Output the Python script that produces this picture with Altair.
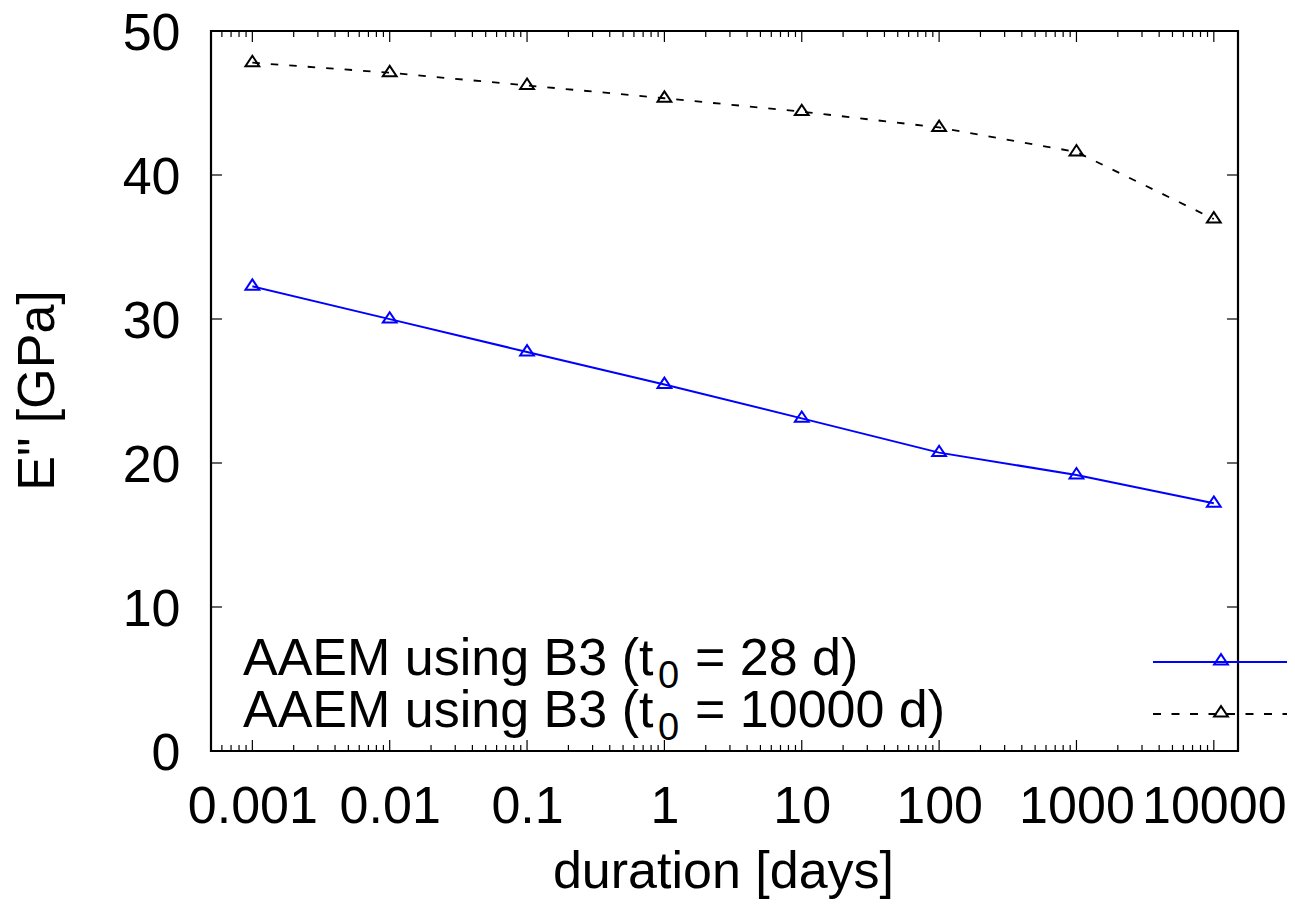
import altair as alt
import pandas as pd

# ---- data ----
durations = [0.001, 0.01, 0.1, 1, 10, 100, 1000, 10000]
e_t0_28 = [32.27, 29.99, 27.71, 25.45, 23.10, 20.72, 19.17, 17.20]
e_t0_10000 = [47.80, 47.10, 46.22, 45.33, 44.40, 43.30, 41.60, 36.94]

legend_main = ["AAEM using B3 (t", "AAEM using B3 (t"]
legend_sub = ["0", "0"]
legend_tail = ["= 28 d)", "= 10000 d)"]

y_major = [0, 10, 20, 30, 40, 50]
x_major = [0.001, 0.01, 0.1, 1, 10, 100, 1000, 10000]
x_decades = [0.0001, 0.001, 0.01, 0.1, 1, 10, 100, 1000, 10000]
x_minor_mult = [2, 3, 4, 5, 6, 7, 8, 9]

X_DOMAIN = [0.0005, 15000]
Y_DOMAIN = [0, 50]
W, H = 1027, 720
FONT = "Liberation Sans"
FS = 52

x_minor = [d * m for d in x_decades for m in x_minor_mult
           if X_DOMAIN[0] * 1.01 < d * m < X_DOMAIN[1]]

xs = alt.Scale(type="log", domain=X_DOMAIN, nice=False)
ys = alt.Scale(domain=Y_DOMAIN, nice=False, zero=False)

df28 = pd.DataFrame({"duration": durations, "E": e_t0_28})
df10k = pd.DataFrame({"duration": durations, "E": e_t0_10000})

tri = "M0,-1L1,0.5L-1,0.5Z"
PT_SIZE = 190

xaxis = alt.Axis(
    title="duration [days]", values=x_major, format="~g", grid=False,
    domain=False, ticks=False, tickSize=0, labelFont=FONT, labelFontSize=FS,
    labelColor="black", labelBaseline="alphabetic", labelPadding=71,
    labelOverlap=False, labelFlush=False,
    titleFont=FONT, titleFontSize=FS, titleFontWeight="normal", titleColor="black",
    titleBaseline="alphabetic", titleY=136, titleX=512, titleAlign="center",
)
yaxis = alt.Axis(
    title='E" [GPa]', values=y_major, grid=False, domain=False, ticks=False,
    tickSize=0, labelFont=FONT, labelFontSize=FS, labelColor="black",
    labelBaseline="alphabetic", labelOffset=18, labelPadding=31,
    labelOverlap=False, labelFlush=False,
    titleFont=FONT, titleFontSize=FS, titleFontWeight="normal", titleColor="black",
    titleAngle=270, titleBaseline="alphabetic", titleAlign="center",
    titleX=-158, titleY=359,
)

base28 = alt.Chart(df28)
base10k = alt.Chart(df10k)

line28 = base28.mark_line(color="#0000ff", strokeWidth=2).encode(
    x=alt.X("duration:Q", scale=xs, axis=xaxis),
    y=alt.Y("E:Q", scale=ys, axis=yaxis),
)
pts28 = base28.mark_point(shape=tri, size=PT_SIZE, color="#0000ff", strokeWidth=2,
                          filled=False, opacity=1).encode(
    x=alt.X("duration:Q", scale=xs), y=alt.Y("E:Q", scale=ys))
line10k = base10k.mark_line(color="black", strokeWidth=1.8,
                            strokeDash=[7.5, 11]).encode(
    x=alt.X("duration:Q", scale=xs), y=alt.Y("E:Q", scale=ys))
pts10k = base10k.mark_point(shape=tri, size=PT_SIZE, color="black", strokeWidth=2,
                            filled=False, opacity=1).encode(
    x=alt.X("duration:Q", scale=xs), y=alt.Y("E:Q", scale=ys))

# ---- inward ticks (gnuplot style, mirrored) ----
ydf = pd.DataFrame({"v": y_major})
xdf = pd.DataFrame({"v": x_major})
xmdf = pd.DataFrame({"v": x_minor})

tick_style = dict(color="black", strokeWidth=1.2)
yt_left = alt.Chart(ydf).mark_rule(**tick_style).encode(
    y=alt.Y("v:Q", scale=ys), x=alt.value(0), x2=alt.value(11))
yt_right = alt.Chart(ydf).mark_rule(**tick_style).encode(
    y=alt.Y("v:Q", scale=ys), x=alt.value(W), x2=alt.value(W - 11))
xt_bot = alt.Chart(xdf).mark_rule(**tick_style).encode(
    x=alt.X("v:Q", scale=xs), y=alt.value(H), y2=alt.value(H - 11))
xt_top = alt.Chart(xdf).mark_rule(**tick_style).encode(
    x=alt.X("v:Q", scale=xs), y=alt.value(0), y2=alt.value(11))
xm_bot = alt.Chart(xmdf).mark_rule(**tick_style).encode(
    x=alt.X("v:Q", scale=xs), y=alt.value(H), y2=alt.value(H - 6))
xm_top = alt.Chart(xmdf).mark_rule(**tick_style).encode(
    x=alt.X("v:Q", scale=xs), y=alt.value(0), y2=alt.value(6))

# ---- legend (text left, samples right, as in the reference) ----
one = pd.DataFrame({"k": [0]})
rows_y = [631, 683]          # sample-line y, plot coordinates
text_base = [644, 696]       # main text baselines
sub_base = [657, 709]
legend_layers = []
styles = [dict(color="#0000ff", strokeWidth=2),
          dict(color="black", strokeWidth=1.8, strokeDash=[8, 10.5])]
pt_colors = ["#0000ff", "black"]
for i in range(2):
    legend_layers.append(alt.Chart(one).mark_text(
        font=FONT, fontSize=FS, align="left", baseline="alphabetic", color="black"
    ).encode(x=alt.value(32), y=alt.value(text_base[i]), text=alt.value(legend_main[i])))
    legend_layers.append(alt.Chart(one).mark_text(
        font=FONT, fontSize=38, align="left", baseline="alphabetic", color="black"
    ).encode(x=alt.value(447), y=alt.value(sub_base[i]), text=alt.value(legend_sub[i])))
    legend_layers.append(alt.Chart(one).mark_text(
        font=FONT, fontSize=FS, align="left", baseline="alphabetic", color="black"
    ).encode(x=alt.value(484), y=alt.value(text_base[i]), text=alt.value(legend_tail[i])))
    legend_layers.append(alt.Chart(one).mark_rule(**styles[i]).encode(
        x=alt.value(942), x2=alt.value(1077), y=alt.value(rows_y[i])))
    legend_layers.append(alt.Chart(one).mark_point(
        shape=tri, size=PT_SIZE, color=pt_colors[i], strokeWidth=2, filled=False,
        opacity=1
    ).encode(x=alt.value(1010), y=alt.value(rows_y[i] - 1)))

chart = alt.layer(
    line28, line10k, pts28, pts10k,
    yt_left, yt_right, xt_bot, xt_top, xm_bot, xm_top,
    *legend_layers,
).properties(
    width=W, height=H,
    background="white",
    autosize=alt.AutoSizeParams(type="none"),
    padding={"left": 203, "top": 23, "right": 49, "bottom": 148},
).configure_view(
    stroke="black", strokeWidth=2.2
)

chart.save("out.html", embed_options={"renderer": "svg", "actions": False})
